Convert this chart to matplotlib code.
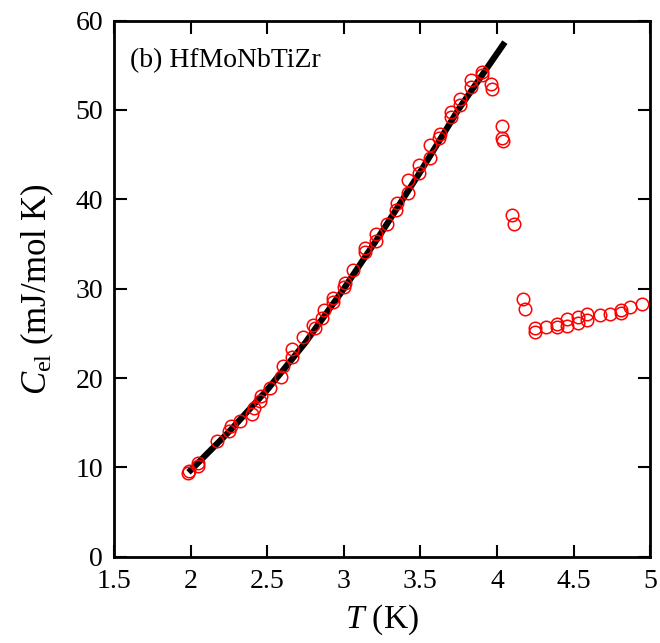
import matplotlib
matplotlib.use('Agg')
import matplotlib.pyplot as plt

# measured data: temperature (K) and electronic specific heat (mJ/mol K)
T = [1.98, 1.99, 2.05, 2.05, 2.17, 2.25, 2.26, 2.32, 2.40, 2.41, 2.45, 2.46,
     2.52, 2.59, 2.60, 2.66, 2.66, 2.73, 2.80, 2.81, 2.86, 2.87, 2.93, 2.93,
     3.00, 3.01, 3.06, 3.14, 3.14, 3.21, 3.21, 3.28, 3.34, 3.35, 3.42, 3.42,
     3.49, 3.49, 3.56, 3.56, 3.62, 3.63, 3.70, 3.70, 3.76, 3.76, 3.83, 3.83,
     3.90, 3.90, 3.96, 3.97, 4.03, 4.03, 4.04, 4.10, 4.11, 4.17, 4.18,
     4.25, 4.25, 4.32, 4.39, 4.39, 4.46, 4.46, 4.53, 4.53, 4.59, 4.59,
     4.67, 4.74, 4.81, 4.81, 4.87, 4.95]
C = [9.4, 9.6, 10.2, 10.5, 13.0, 14.1, 14.6, 15.2, 16.0, 16.6, 17.4, 18.0,
     18.9, 20.1, 21.3, 22.4, 23.3, 24.6, 25.9, 25.6, 26.7, 27.6, 28.5, 29.0,
     30.2, 30.6, 32.1, 34.1, 34.5, 35.3, 36.1, 37.2, 38.8, 39.6, 40.7, 42.2,
     43.0, 43.8, 44.6, 46.1, 46.9, 47.3, 49.2, 49.8, 50.6, 51.2, 52.6, 53.4,
     53.9, 54.3, 52.9, 52.4, 48.2, 46.9, 46.5, 38.3, 37.2, 28.8, 27.7,
     25.6, 25.2, 25.7, 26.0, 25.7, 26.6, 25.8, 26.8, 26.2, 27.2, 26.5,
     27.1, 27.2, 27.6, 27.3, 27.9, 28.3]

# fit curve
T_fit = [2.0, 2.25, 2.5, 2.75, 3.0, 3.25, 3.5, 3.75, 4.04]
C_fit = [9.7, 14.0, 18.7, 24.0, 30.0, 36.4, 43.1, 50.1, 57.3]

plt.rcParams['font.family'] = 'Liberation Serif'
plt.rcParams['mathtext.fontset'] = 'custom'
plt.rcParams['mathtext.it'] = 'Liberation Serif:italic'
plt.rcParams['mathtext.rm'] = 'Liberation Serif'

fig = plt.figure(figsize=(6.6, 6.43), dpi=100)
ax = fig.add_axes([0.173, 0.134, 0.812, 0.834])

ax.plot(T_fit, C_fit, color='black', linewidth=4.5, zorder=1)
ax.plot(T, C, 'o', markerfacecolor='none', markeredgecolor='red',
        markersize=9, markeredgewidth=1.1, zorder=2)

ax.set_xlim(1.5, 5)
ax.set_ylim(0, 60)
ax.set_xticks([1.5, 2, 2.5, 3, 3.5, 4, 4.5, 5])
ax.set_xticklabels(['1.5', '2', '2.5', '3', '3.5', '4', '4.5', '5'])
ax.set_yticks(range(0, 61, 10))
ax.tick_params(direction='in', length=9, width=1.5, top=True, right=True,
               labelsize=20)
ax.tick_params(axis='x', pad=9)
ax.tick_params(axis='y', pad=8)
for s in ax.spines.values():
    s.set_linewidth(2)

ax.set_xlabel(r'$T$ (K)', fontsize=24, labelpad=6)
ax.set_ylabel(r'$C_{\mathrm{el}}$ (mJ/mol K)', fontsize=25, labelpad=14)
ax.text(0.03, 0.925, '(b) HfMoNbTiZr', transform=ax.transAxes,
        fontsize=20, va='center', ha='left')

fig.savefig('out.png', dpi=100)
